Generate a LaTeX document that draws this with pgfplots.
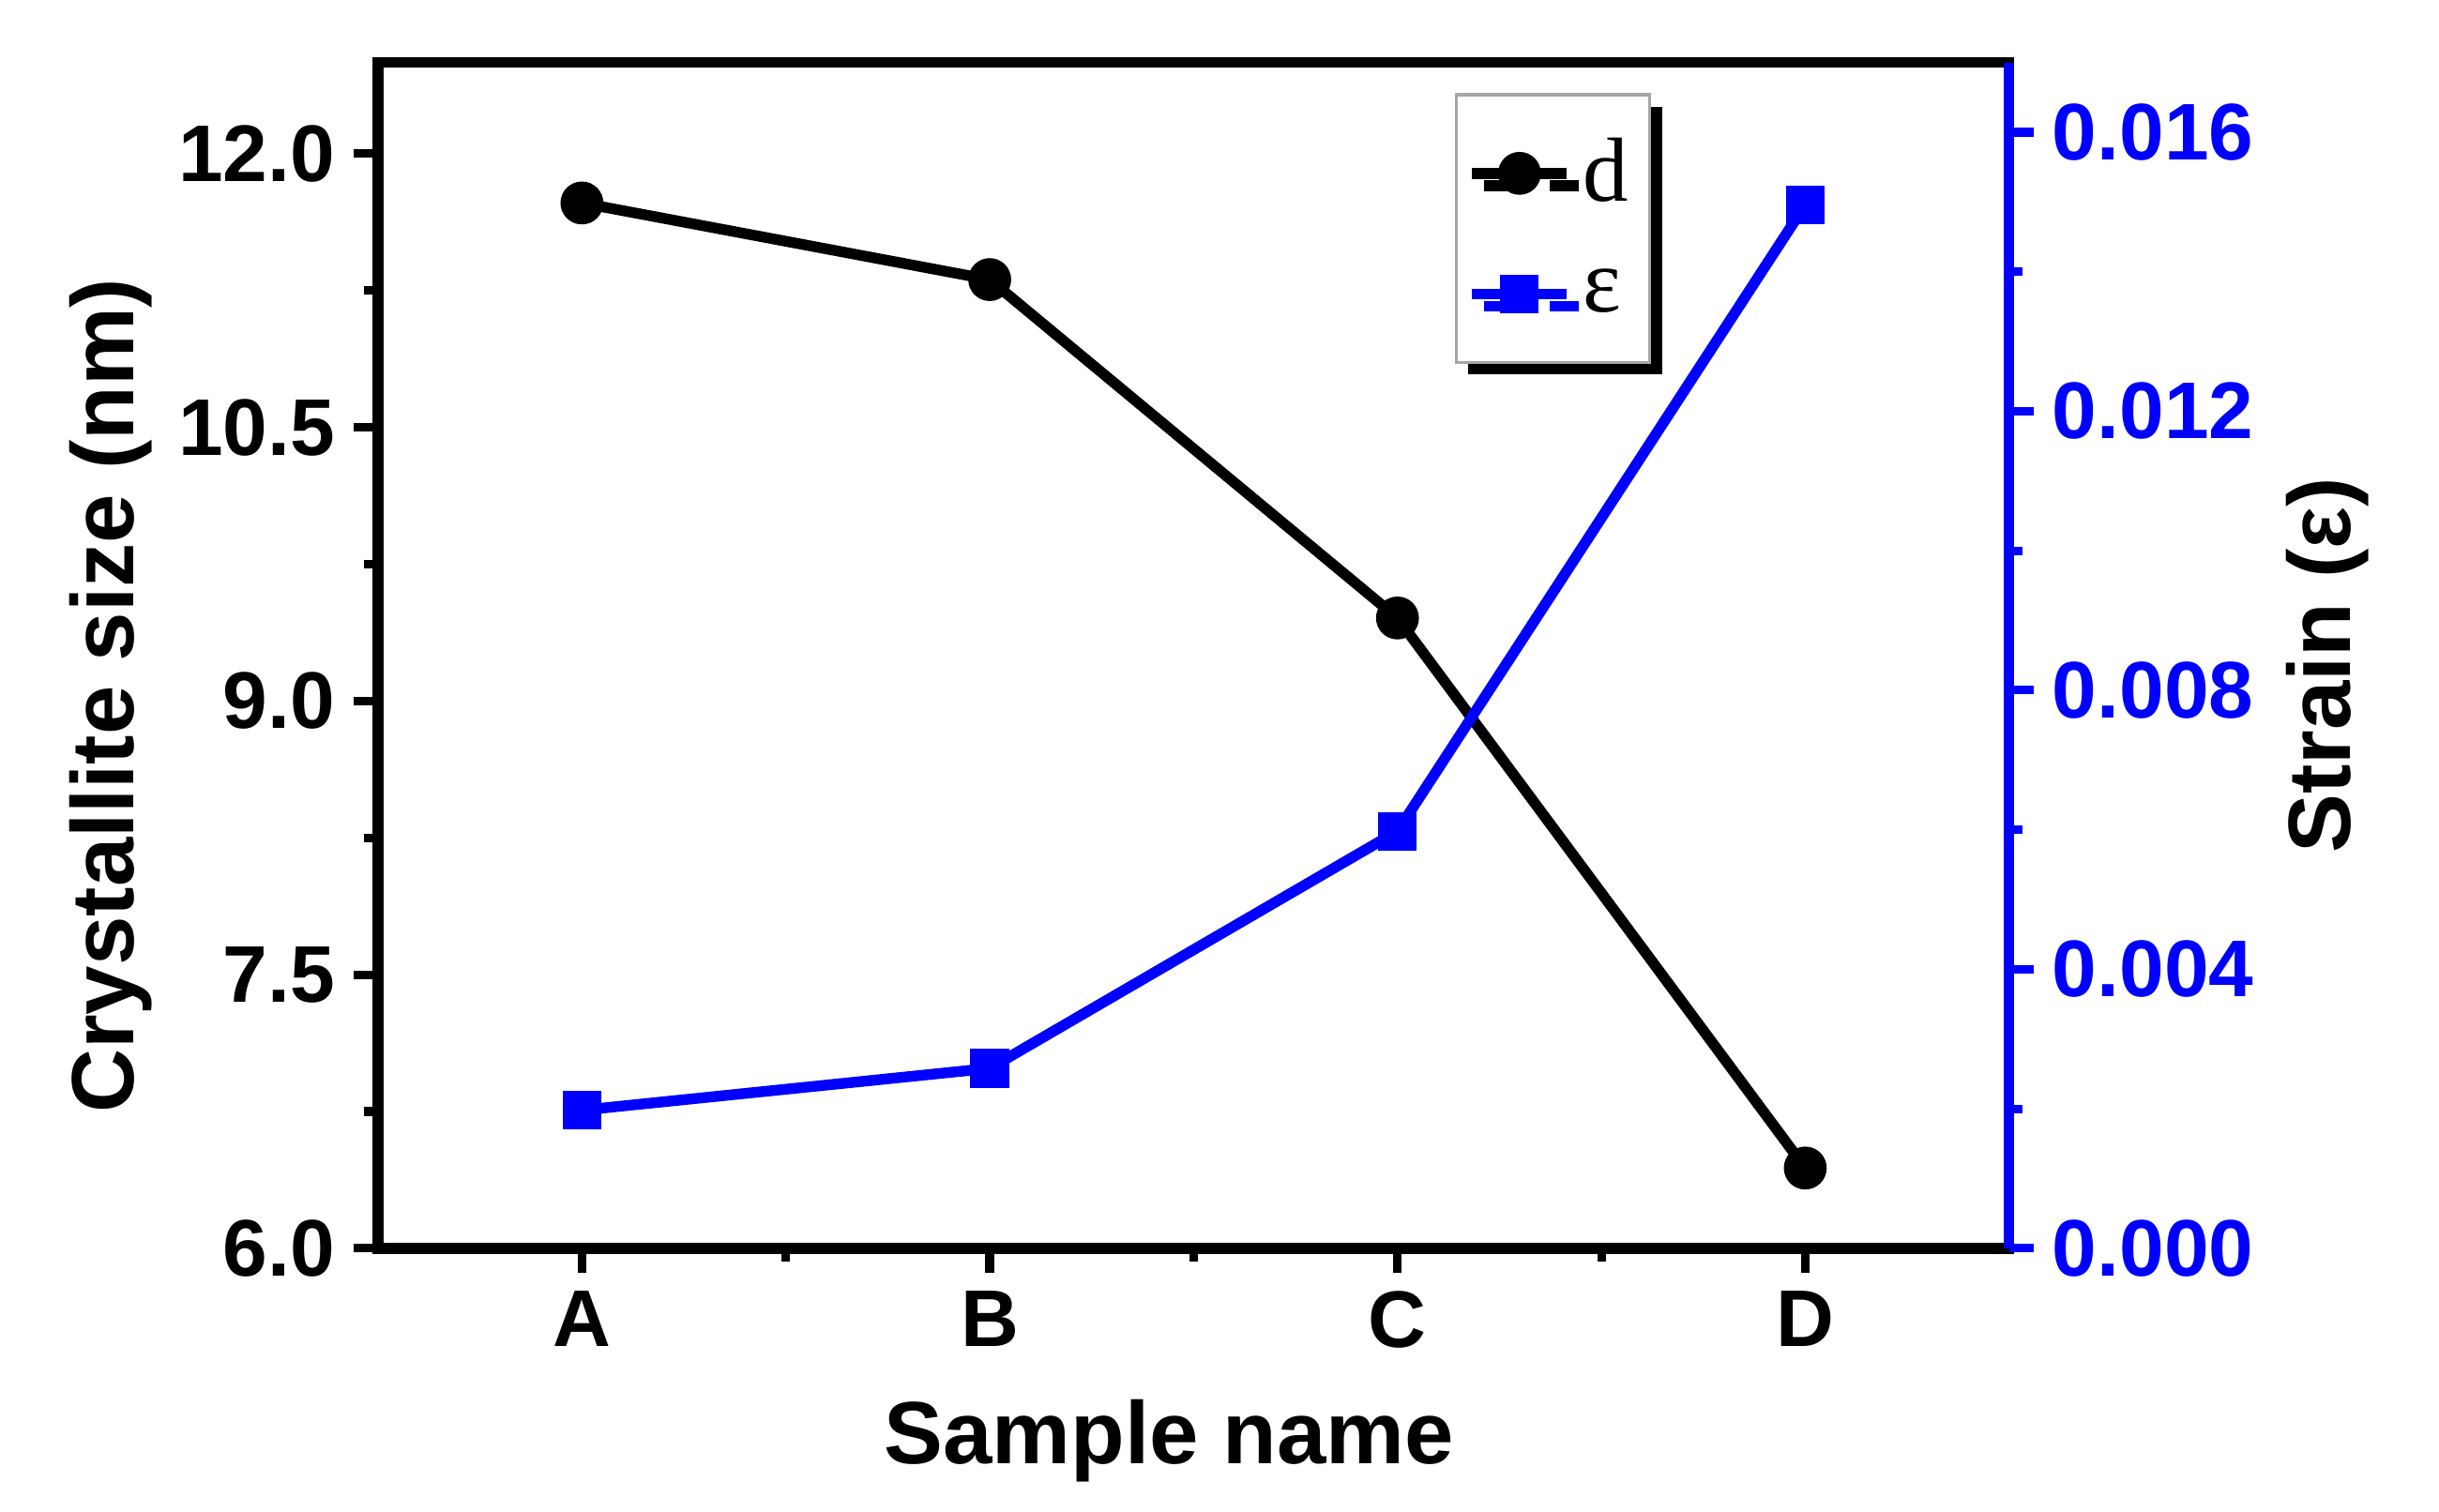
\documentclass[border=0pt]{standalone}
\usepackage{fontspec}
\setmainfont{Liberation Sans}
\newfontfamily\legendfont{Liberation Serif}
\usepackage{pgfplots}
\pgfplotsset{compat=1.18}
\usetikzlibrary{shadows}
\definecolor{strainblue}{RGB}{0,0,255}

\pgfplotsset{
  common/.style={
    width=10.7cm, height=7.78cm, scale only axis,
    xmin=-0.5, xmax=3.5,
    tick align=outside,
    major tick length=0.16cm, minor tick length=0.09cm,
    every tick/.style={line width=1.6pt},
    tick label style={font=\bfseries\fontsize{15}{18}\selectfont,
      /pgf/number format/assume math mode=true},
    label style={font=\bfseries\fontsize{16.5}{19}\selectfont},
  },
  split legend/.style={
    legend image code/.code={
      \draw[mark=none] (0cm,0cm) -- (0.19cm,0cm);
      \draw[mark=none] (0.43cm,0cm) -- (0.62cm,0cm);
      \draw[only marks] plot coordinates {(0.31cm,0cm)};
    },
  },
}

\begin{document}
\begin{tikzpicture}
\begin{axis}[common, name=ax,
  axis line style={line width=2pt},
  ymin=6, ymax=12.5,
  xtick={0,1,2,3}, xticklabels={A,B,C,D},
  minor xtick={0.5,1.5,2.5},
  ytick={6,7.5,9,10.5,12},
  minor ytick={6.75,8.25,9.75,11.25},
  xtick pos=bottom, ytick pos=left,
  yticklabel style={/pgf/number format/.cd, fixed, fixed zerofill, precision=1},
  xlabel={Sample name},
  ylabel={Crystallite size (nm)},
  xlabel style={at={(axis description cs:0.485,-0.1625)}, anchor=center},
  ylabel style={at={(axis description cs:-0.1636,0.466)}, anchor=center},
]
\addplot[black, line width=2pt, mark=*, mark size=3pt] coordinates {
  (0,11.73) (1,11.31) (2,9.455) (3,6.44)
};
\end{axis}

\begin{axis}[common,
  axis y line*=right, axis x line=none,
  y axis line style={strainblue, line width=2pt},
  ymin=0, ymax=0.017,
  scaled y ticks=false,
  ytick={0,0.004,0.008,0.012,0.016},
  minor ytick={0.002,0.006,0.010,0.014},
  every y tick/.style={strainblue, line width=1.6pt},
  yticklabel style={strainblue, /pgf/number format/.cd, fixed, fixed zerofill, precision=3},
  ylabel={Strain (ε)},
  ylabel style={at={(axis description cs:1.195,0.4915)}, anchor=center, black,
    font=\fontsize{16.5}{19}\selectfont\bfseries},
  legend style={at={(axis description cs:0.66,0.974)}, anchor=north west,
    draw=gray!70, line width=0.6pt, fill=white,
    drop shadow={shadow xshift=0.08cm, shadow yshift=-0.08cm, fill=black, opacity=1},
    font=\legendfont\fontsize{17}{19}\selectfont,
    row sep=0.25cm, inner xsep=2pt, inner ysep=6pt},
  legend cell align=left,
]
\addlegendimage{black, line width=2pt, mark=*, mark size=3pt, split legend}
\addlegendentry{d}
\addplot[strainblue, line width=2pt, mark=square*, mark size=2.6pt, split legend] coordinates {
  (0,0.00198) (1,0.00258) (2,0.00598) (3,0.01496)
};
\addlegendentry{ε}
\end{axis}

\pgfresetboundingbox
\path[use as bounding box] ([xshift=-2.48cm,yshift=-1.73cm]ax.south west)
  rectangle ([xshift=2.82cm,yshift=0.41cm]ax.north east);
\end{tikzpicture}
\end{document}
